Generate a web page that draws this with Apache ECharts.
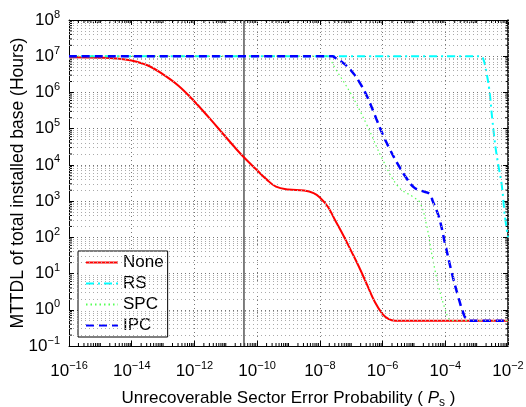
<!DOCTYPE html>
<html>
<head>
<meta charset="utf-8">
<script src="https://cdn.jsdelivr.net/npm/echarts@6/dist/echarts.min.js"></script>
<style>
html,body{margin:0;padding:0;background:#fff;}
#main{width:526px;height:407px;}
</style>
</head>
<body>
<div id="main"></div>
<script>
// exponents: log10(P_s) and log10(MTTDL)
var noneLogP = [-16, -15, -14.5, -14, -13.5, -13, -12.5, -12, -11.5, -11, -10.5, -10, -9.7, -9.4, -9, -8.5, -8.2, -8, -7.75, -7.5, -7.25, -7, -6.75, -6.5, -6.25, -6, -5.8, -5.6, -2];
var noneLogY = [6.97, 6.96, 6.94, 6.88, 6.75, 6.5, 6.18, 5.75, 5.27, 4.77, 4.28, 3.85, 3.6, 3.4, 3.32, 3.29, 3.22, 3.1, 2.85, 2.45, 2.05, 1.62, 1.18, 0.7, 0.22, -0.12, -0.26, -0.3, -0.3];

var rsLogP = [-16, -2.9, -2.8, -2.7, -2.6, -2.5, -2.4, -2.3, -2.2, -2.1, -2];
var rsLogY = [7, 7, 6.95, 6.6, 6.1, 5.25, 4.5, 3.95, 3.45, 2.6, 2.0];

var spcLogP = [-16, -7.8, -7.7, -7.5, -7, -6.5, -6, -5.5, -5, -4.8, -4.6, -4.4, -4.2, -4, -3.9, -3.8, -2];
var spcLogY = [7, 7, 6.95, 6.65, 5.95, 5.1, 4.15, 3.4, 3.1, 2.95, 2.35, 1.4, 0.6, 0.0, -0.22, -0.3, -0.3];

var ipcLogP = [-16, -7.6, -7.5, -7.25, -7, -6.75, -6.5, -6.25, -6, -5.75, -5.5, -5.25, -5, -4.75, -4.5, -4.4, -4.2, -4, -3.8, -3.6, -3.4, -3.3, -3.2, -2];
var ipcLogY = [7, 7, 6.95, 6.81, 6.6, 6.3, 5.9, 5.38, 4.85, 4.4, 4.0, 3.65, 3.38, 3.28, 3.2, 3.0, 2.55, 1.8, 1.05, 0.4, -0.15, -0.27, -0.3, -0.3];

var markerP = 3.8e-11;

var xMin = 1e-16, xMax = 1e-2;
var yMin = 1e-1, yMax = 1e8;

function toPoints(lx, ly){
	var out = [];
	for(var i=0;i<lx.length;i++){
		out.push([Math.pow(10, lx[i]), Math.pow(10, ly[i])]);
	}
	return out;
}

function powLabel(v){
	var e = Math.round(Math.log10(v));
	var s = e < 0 ? '\u2212' + (-e) : '' + e;
	return '{b|10}{s|' + s + '}';
}

// minor grid / tick positions (2..9 in every decade, plus odd decades on x)
var minorXVals = [], minorYVals = [];
for(var d=-16; d<-2; d++){
	for(var m=1; m<10; m++){
		if(m == 1 && d % 2 == 0) continue;
		minorXVals.push(m * Math.pow(10, d));
	}
}
for(var d=-1; d<8; d++){
	for(var m=2; m<10; m++){
		minorYVals.push(m * Math.pow(10, d));
	}
}
var minorLines = minorXVals.map(function(v){ return {xAxis: v}; })
	.concat(minorYVals.map(function(v){ return {yAxis: v}; }));

var font = 'Liberation Sans';
var labelRich = {
	b: {fontSize: 17, fontFamily: font, color: '#000'},
	s: {fontSize: 11, fontFamily: font, color: '#000', verticalAlign: 'top', padding: [0, 0, 11, 0]}
};

var gridStyle = {color: '#777', type: [1, 3], width: 1};

function tickItem(pts){
	return {type: 'group', children: pts.map(function(p){
		return {type: 'line', shape: {x1: p[0], y1: p[1], x2: p[2], y2: p[3]}, style: {stroke: '#000', lineWidth: 1}};
	})};
}

var chart = echarts.init(document.getElementById('main'));
var option = {
	backgroundColor: '#fff',
	animation: false,
	grid: {left: 69, right: 18, top: 20, bottom: 61, containLabel: false, outerBoundsMode: 'none'},
	legend: {
		data: ['None', 'RS', 'SPC', 'IPC'],
		orient: 'vertical',
		left: 78, top: 251,
		itemWidth: 32, itemHeight: 17, itemGap: 4,
		padding: [3, 4, 3, 7],
		borderColor: '#000', borderWidth: 1,
		backgroundColor: '#fff',
		itemStyle: {opacity: 0},
		textStyle: {fontSize: 17, lineHeight: 17, fontFamily: font, color: '#000'}
	},
	xAxis: [{
		type: 'log', min: xMin, max: xMax, interval: 2,
		name: '{t|Unrecoverable Sector Error Probability ( }{i|P}{u|s}{t| )}',
		nameLocation: 'middle', nameGap: 42,
		nameTextStyle: {rich: {
			t: {fontSize: 17, fontFamily: font, color: '#000'},
			i: {fontSize: 17, fontFamily: font, fontStyle: 'italic', color: '#000'},
			u: {fontSize: 12, fontFamily: font, color: '#000', verticalAlign: 'bottom', padding: [9, 0, 0, 0]}
		}},
		axisLine: {lineStyle: {color: '#000', width: 1}},
		axisTick: {inside: true, length: 5, lineStyle: {color: '#000'}},
		axisLabel: {formatter: powLabel, rich: labelRich, margin: 14},
		splitLine: {show: true, lineStyle: gridStyle}
	}, {
		type: 'log', min: xMin, max: xMax, interval: 2, position: 'top',
		axisLine: {lineStyle: {color: '#000', width: 1}},
		axisTick: {inside: true, length: 5, lineStyle: {color: '#000'}},
		axisLabel: {show: false}, splitLine: {show: false}
	}],
	yAxis: [{
		type: 'log', min: yMin, max: yMax, interval: 1,
		name: 'MTTDL of total installed base (Hours)',
		nameLocation: 'middle', nameGap: 42, nameMoveOverlap: false,
		nameTextStyle: {fontSize: 17.5, fontFamily: font, color: '#000'},
		axisLine: {show: true, lineStyle: {color: '#000', width: 1}},
		axisTick: {show: true, inside: true, length: 5, lineStyle: {color: '#000'}},
		axisLabel: {formatter: powLabel, rich: labelRich, margin: 9},
		splitLine: {show: true, lineStyle: gridStyle}
	}, {
		type: 'log', min: yMin, max: yMax, interval: 1, position: 'right',
		axisLine: {show: true, lineStyle: {color: '#000', width: 1.5}},
		axisTick: {show: true, inside: true, length: 5, lineStyle: {color: '#000'}},
		axisLabel: {show: false}, splitLine: {show: false}
	}],
	series: [
		{
			name: 'grid', type: 'line', data: [], silent: true,
			markLine: {
				silent: true, symbol: 'none', label: {show: false},
				lineStyle: {color: '#aaa', type: [1, 3], width: 1},
				data: minorLines
			}
		},
		{
			name: 'minorTicksX', type: 'custom', silent: true, clip: false,
			data: minorXVals.map(function(v){ return [v, yMin]; }),
			renderItem: function(params, api){
				var b = api.coord([api.value(0), yMin]);
				var t = api.coord([api.value(0), yMax]);
				return tickItem([[b[0], b[1], b[0], b[1] - 3], [t[0], t[1], t[0], t[1] + 3]]);
			}
		},
		{
			name: 'minorTicksY', type: 'custom', silent: true, clip: false,
			data: minorYVals.map(function(v){ return [xMin, v]; }),
			renderItem: function(params, api){
				var l = api.coord([xMin, api.value(1)]);
				var r = api.coord([xMax, api.value(1)]);
				return tickItem([[l[0], l[1], l[0] + 3, l[1]], [r[0], r[1], r[0] - 3, r[1]]]);
			}
		},
		{
			name: 'marker', type: 'line', symbol: 'none', silent: true,
			data: [[markerP, yMin], [markerP, yMax]],
			lineStyle: {color: '#555', width: 1.5}
		},
		{
			name: 'None', type: 'line', symbol: 'none', smooth: 0.4,
			data: toPoints(noneLogP, noneLogY),
			lineStyle: {color: '#ff0000', width: 2},
			itemStyle: {color: '#ff0000'}
		},
		{
			name: 'RS', type: 'line', symbol: 'none', smooth: 0.4,
			data: toPoints(rsLogP, rsLogY),
			lineStyle: {color: '#00ffff', width: 2, type: [8, 4, 2, 4]},
			itemStyle: {color: '#00ffff'}
		},
		{
			name: 'SPC', type: 'line', symbol: 'none', smooth: 0.4,
			data: toPoints(spcLogP, spcLogY),
			lineStyle: {color: '#55ff55', width: 1.2, type: [1.5, 3]},
			itemStyle: {color: '#55ff55'}
		},
		{
			name: 'IPC', type: 'line', symbol: 'none', smooth: 0.4,
			data: toPoints(ipcLogP, ipcLogY),
			lineStyle: {color: '#0000ff', width: 2.5, type: [8, 5]},
			itemStyle: {color: '#0000ff'}
		}
	]
};
chart.setOption(option);
</script>
</body>
</html>
